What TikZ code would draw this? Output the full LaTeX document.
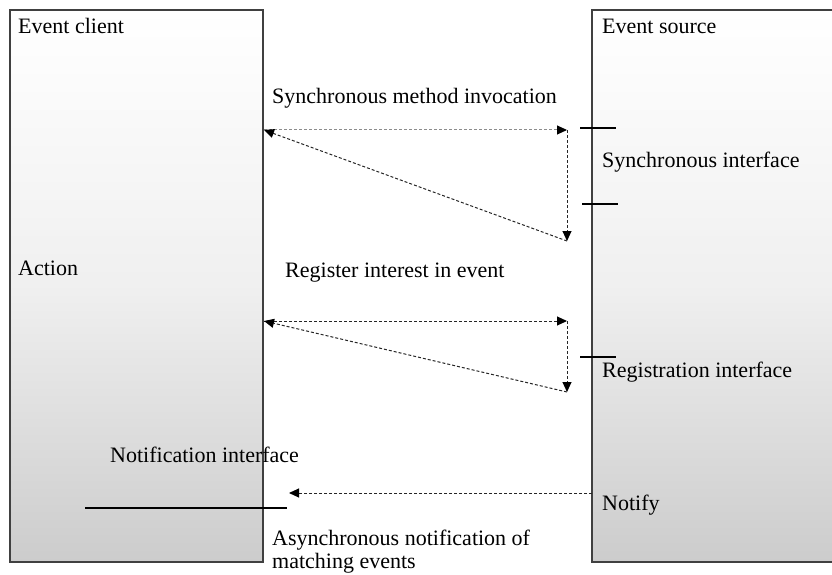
\documentclass[tikz,border=0pt]{standalone}
\usepackage{fontspec}
\setmainfont{Liberation Serif}
\usetikzlibrary{arrows.meta}
\begin{document}
\begin{tikzpicture}[x=1pt,y=-1pt,
  party/.style={draw=black!75,line width=1.2pt,top color=white,bottom color=black!20,middle color=black!6},
  lbl/.style={anchor=base west,inner sep=0pt,font=\fontsize{22}{26}\selectfont},
  msg/.style={draw=black!85,line width=1pt,dash pattern=on 3pt off 2pt,-{Triangle[length=10pt,width=9pt,color=black,fill=black]}},
  port/.style={line width=2pt,black}]
\useasboundingbox (0,0) rectangle (832,575);
% participants
\path[party] (10,10) rectangle (263,562);
\path[party] (592,10) rectangle (834,562);
\node[lbl] (client) at (18,34) {Event client};
\node[lbl] (source) at (602,34) {Event source};
\node[lbl] (action) at (18,275) {Action};
% synchronous call cycle
\coordinate (s1) at (264,130);
\coordinate (s2) at (567,130);
\coordinate (s3) at (567,241);
\draw[msg,draw=black!45] (s1) -- (s2);
\draw[msg] (s2) -- (s3);
\draw[msg] (s3) -- (s1);
\node[lbl] (sync) at (272,103) {Synchronous method invocation};
% registration cycle
\coordinate (r1) at (264,321);
\coordinate (r2) at (567,321);
\coordinate (r3) at (567,392);
\draw[msg] (r1) -- (r2);
\draw[msg] (r2) -- (r3);
\draw[msg] (r3) -- (r1);
\node[lbl] (reg) at (285,277) {Register interest in event};
% interface markers
\coordinate (p1a) at (580,128); \coordinate (p1b) at (616,128);
\coordinate (p2a) at (582,204); \coordinate (p2b) at (618,204);
\coordinate (p3a) at (580,357); \coordinate (p3b) at (616,357);
\draw[port] (p1a) -- (p1b);
\draw[port] (p2a) -- (p2b);
\draw[port] (p3a) -- (p3b);
\node[lbl] (syncif) at (602,167) {Synchronous interface};
\node[lbl] (regif) at (602,377) {Registration interface};
% notification
\coordinate (n1) at (85,508);
\coordinate (n2) at (287,508);
\draw[port] (n1) -- (n2);
\node[lbl] (notif) at (110,462) {Notification interface};
\coordinate (nf) at (592,493);
\coordinate (nt) at (289,493);
\draw[msg] (nf) -- (nt);
\node[lbl] (notify) at (602,510) {Notify};
\node[lbl] (async1) at (272,545) {Asynchronous notification of};
\node[lbl] (async2) at (272,568) {matching events};
\end{tikzpicture}
\end{document}
